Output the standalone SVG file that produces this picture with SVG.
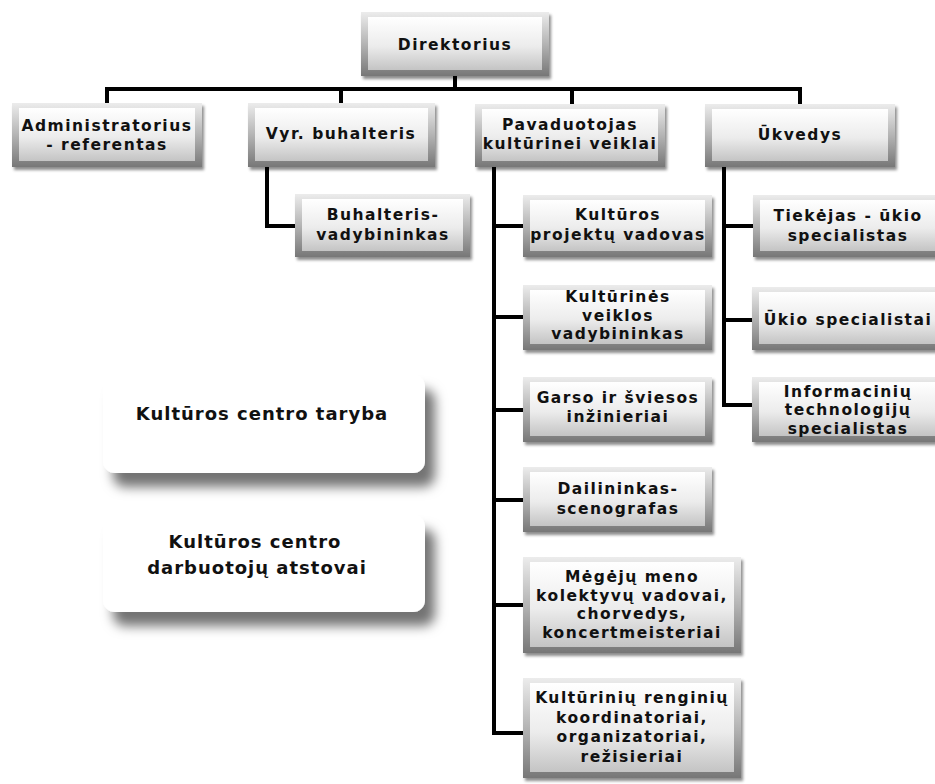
<svg xmlns="http://www.w3.org/2000/svg" width="935" height="784" viewBox="0 0 935 784">
<defs>
<linearGradient id="outer" x1="0" y1="0" x2="0" y2="1">
<stop offset="0" stop-color="#ececec"/><stop offset="0.5" stop-color="#b4b4b4"/><stop offset="1" stop-color="#777"/>
</linearGradient>
<linearGradient id="inner" x1="0" y1="0" x2="0" y2="1">
<stop offset="0" stop-color="#ffffff"/><stop offset="0.55" stop-color="#ececec"/><stop offset="1" stop-color="#c4c4c4"/>
</linearGradient>
<filter id="sh" x="-10%" y="-10%" width="130%" height="140%">
<feDropShadow dx="2" dy="3" stdDeviation="1.5" flood-color="#000" flood-opacity="0.45"/>
</filter>
<filter id="soft" x="-20%" y="-20%" width="150%" height="170%">
<feDropShadow dx="10" dy="14" stdDeviation="6" flood-color="#000" flood-opacity="0.55"/>
</filter>
</defs>
<style>
.o{fill:url(#outer);filter:url(#sh)}
.i{fill:url(#inner)}
.t{font-family:"DejaVu Sans",Verdana,sans-serif;font-weight:bold;font-size:15.5px;letter-spacing:1.5px;fill:#111;text-anchor:middle}
.l{font-family:"DejaVu Sans",Verdana,sans-serif;font-weight:bold;font-size:18px;letter-spacing:1px;fill:#111;text-anchor:middle}
.c{fill:none;stroke:#000;stroke-width:4}
.w{fill:#fff;filter:url(#soft)}
</style>
<rect width="935" height="784" fill="#fff"/>
<g id="connectors">
<path class="c" d="M455 76V89M107 103V89H800V104M341 89V103M572 89V104"/>
<path class="c" d="M267 167V226H295"/>
<path class="c" d="M494 167V733H523M494 226H523M494 317H523M494 410H523M494 500H523M494 605H523"/>
<path class="c" d="M724 167V405H753M724 226H753M724 320H753"/>
</g>
<g id="direktorius"><rect class="o" x="361" y="12" width="188" height="64"/><rect class="i" x="368" y="17" width="174" height="53"/><text class="t" x="455" y="50">Direktorius</text></g>
<g id="administratorius"><rect class="o" x="12" y="103" width="190" height="64"/><rect class="i" x="19" y="108" width="176" height="53"/><text class="t" x="107" y="131">Administratorius</text><text class="t" x="107" y="150">- referentas</text></g>
<g id="vyr-buhalteris"><rect class="o" x="248" y="103" width="187" height="64"/><rect class="i" x="255" y="108" width="173" height="53"/><text class="t" x="341" y="139">Vyr. buhalteris</text></g>
<g id="pavaduotojas"><rect class="o" x="475" y="104" width="190" height="63"/><rect class="i" x="482" y="109" width="176" height="52"/><text class="t" x="570" y="130">Pavaduotojas</text><text class="t" x="570" y="149">kultūrinei veiklai</text></g>
<g id="ukvedys"><rect class="o" x="705" y="104" width="190" height="63"/><rect class="i" x="712" y="109" width="176" height="52"/><text class="t" x="800" y="140">Ūkvedys</text></g>
<g id="buhalteris-vadybininkas"><rect class="o" x="295" y="194" width="175" height="63"/><rect class="i" x="302" y="199" width="161" height="52"/><text class="t" x="383" y="220">Buhalteris-</text><text class="t" x="383" y="240">vadybininkas</text></g>
<g id="projektu-vadovas"><rect class="o" x="523" y="195" width="189" height="62"/><rect class="i" x="530" y="200" width="175" height="51"/><text class="t" x="618" y="220">Kultūros</text><text class="t" x="618" y="240">projektų vadovas</text></g>
<g id="veiklos-vadybininkas"><rect class="o" x="523" y="285" width="189" height="65"/><rect class="i" x="530" y="290" width="175" height="54"/><text class="t" x="618" y="302">Kultūrinės</text><text class="t" x="618" y="320.5">veiklos</text><text class="t" x="618" y="339">vadybininkas</text></g>
<g id="garso-sviesos"><rect class="o" x="523" y="377" width="189" height="65"/><rect class="i" x="530" y="382" width="175" height="54"/><text class="t" x="618" y="403">Garso ir šviesos</text><text class="t" x="618" y="422">inžinieriai</text></g>
<g id="dailininkas"><rect class="o" x="523" y="467" width="189" height="65"/><rect class="i" x="530" y="472" width="175" height="54"/><text class="t" x="618" y="494">Dailininkas-</text><text class="t" x="618" y="514">scenografas</text></g>
<g id="megeju-meno"><rect class="o" x="523" y="557" width="218" height="96"/><rect class="i" x="530" y="562" width="204" height="85"/><text class="t" x="632" y="582">Mėgėjų meno</text><text class="t" x="632" y="600.5">kolektyvų vadovai,</text><text class="t" x="632" y="619">chorvedys,</text><text class="t" x="632" y="637.5">koncertmeisteriai</text></g>
<g id="renginiu-koordinatoriai"><rect class="o" x="523" y="678" width="218" height="100"/><rect class="i" x="530" y="683" width="204" height="89"/><text class="t" x="632" y="703">Kultūrinių renginių</text><text class="t" x="632" y="723">koordinatoriai,</text><text class="t" x="632" y="742">organizatoriai,</text><text class="t" x="632" y="762">režisieriai</text></g>
<g id="tiekejas"><rect class="o" x="753" y="195" width="190" height="62"/><rect class="i" x="760" y="200" width="176" height="51"/><text class="t" x="848" y="221">Tiekėjas - ūkio</text><text class="t" x="848" y="241">specialistas</text></g>
<g id="ukio-specialistai"><rect class="o" x="752" y="287" width="192" height="63"/><rect class="i" x="759" y="292" width="178" height="52"/><text class="t" x="848" y="325">Ūkio specialistai</text></g>
<g id="it-specialistas"><rect class="o" x="752" y="377" width="192" height="65"/><rect class="i" x="759" y="382" width="178" height="54"/><text class="t" x="848" y="396.5">Informacinių</text><text class="t" x="848" y="415">technologijų</text><text class="t" x="848" y="433.5">specialistas</text></g>
<g id="taryba"><rect class="w" x="103" y="375" width="322" height="98" rx="12"/><text class="l" x="262" y="420">Kultūros centro taryba</text></g>
<g id="atstovai"><rect class="w" x="103" y="515" width="322" height="97" rx="12"/><text class="l" x="255" y="548">Kultūros centro</text><text class="l" x="257" y="574">darbuotojų atstovai</text></g>
</svg>
